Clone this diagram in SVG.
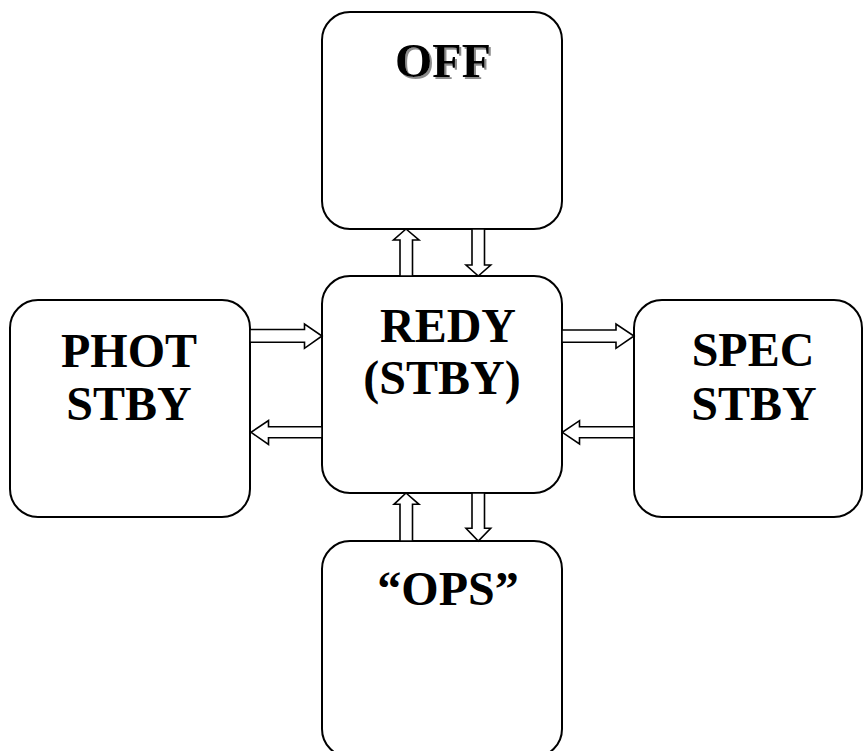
<svg xmlns="http://www.w3.org/2000/svg" width="864" height="751" viewBox="0 0 864 751">
  <style>
    .box { fill: #ffffff; stroke: #000000; stroke-width: 2; }
    .arrow { fill: #ffffff; stroke: #000000; stroke-width: 1.6; stroke-linejoin: miter; }
    .label { font-family: "Liberation Serif", "Times New Roman", serif; font-weight: bold; font-size: 48px; fill: #000000; text-anchor: middle; }
  </style>
  <defs>
    <!-- soft grey drop shadow used on the OFF title -->
    <filter id="text-shadow" x="-10%" y="-20%" width="130%" height="150%">
      <feDropShadow dx="2" dy="2" stdDeviation="0.6" flood-color="#8c8c8c" flood-opacity="1"/>
    </filter>
  </defs>
  <rect width="864" height="751" fill="#ffffff"/>

  <g id="node-off">
    <rect class="box" x="322" y="12" width="240" height="217" rx="28" ry="28"/>
    <text class="label" x="443" y="77" filter="url(#text-shadow)">OFF</text>
  </g>

  <g id="node-redy">
    <rect class="box" x="322" y="276" width="240" height="217" rx="28" ry="28"/>
    <text class="label" x="448" y="342">REDY</text>
    <text class="label" x="442" y="394">(STBY)</text>
  </g>

  <g id="node-phot">
    <rect class="box" x="10" y="300" width="240" height="217" rx="28" ry="28"/>
    <text class="label" x="129" y="367">PHOT</text>
    <text class="label" x="129" y="420">STBY</text>
  </g>

  <g id="node-spec">
    <rect class="box" x="634" y="300" width="228" height="217" rx="28" ry="28"/>
    <text class="label" x="753" y="366">SPEC</text>
    <text class="label" x="754" y="420">STBY</text>
  </g>

  <g id="node-ops">
    <rect class="box" x="322" y="541" width="240" height="216" rx="28" ry="28"/>
    <text class="label" x="448" y="605">“OPS”</text>
  </g>

  <g id="connectors">
    <!-- REDY -> OFF (up) -->
    <polygon class="arrow" points="400,276 400,240 393.5,240 406,229 419,240 412.5,240 412.5,276"/>
    <!-- OFF -> REDY (down) -->
    <polygon class="arrow" points="472,229 472,265 466,265 478.3,276 490.7,265 484.5,265 484.5,229"/>
    <!-- PHOT -> REDY (right) -->
    <polygon class="arrow" points="250,329.5 304.5,329.5 304.5,324 322,336 304.5,348.3 304.5,342.3 250,342.3"/>
    <!-- REDY -> PHOT (left) -->
    <polygon class="arrow" points="322,426.7 268.5,426.7 268.5,420.5 251,432.3 268.5,444.5 268.5,437.7 322,437.7"/>
    <!-- REDY -> SPEC (right) -->
    <polygon class="arrow" points="562,330 616,330 616,324 634,336 616,348.3 616,342.3 562,342.3"/>
    <!-- SPEC -> REDY (left) -->
    <polygon class="arrow" points="634,426.7 579.5,426.7 579.5,420.7 562.3,432.3 579.5,444 579.5,437.7 634,437.7"/>
    <!-- OPS -> REDY (up) -->
    <polygon class="arrow" points="400,541 400,504.3 394,504.3 406,493 419,504.3 412.5,504.3 412.5,541"/>
    <!-- REDY -> OPS (down) -->
    <polygon class="arrow" points="472,493 472,528.3 466,528.3 478.3,541 490.7,528.3 484.5,528.3 484.5,493"/>
  </g>
</svg>
